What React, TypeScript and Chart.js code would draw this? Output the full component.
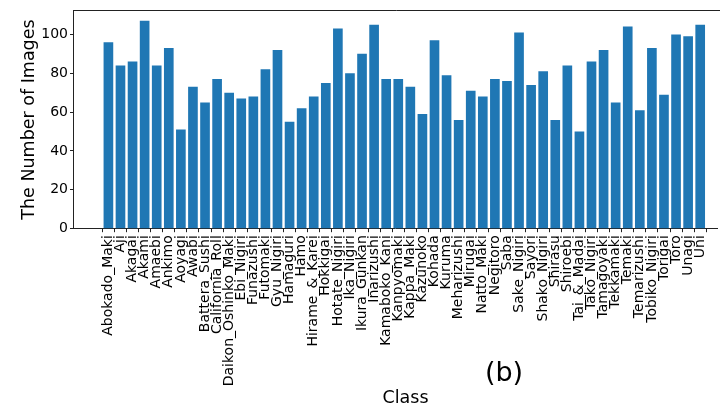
import React, { useEffect, useRef } from "react";
import { Chart, registerables } from "chart.js";

Chart.register(...registerables);

const classes = [
  "Abokado_Maki", "Aji", "Akagai", "Akami", "Amaebi", "Ankimo", "Aoyagi", "Awabi",
  "Battera_Sushi", "California_Roll", "Daikon_Oshinko_Maki", "Ebi_Nigiri", "Funazushi",
  "Futomaki", "Gyu_Nigiri", "Hamaguri", "Hamo", "Hirame_&_Karei", "Hokkigai",
  "Hotate_Nigiri", "Ika_Nigiri", "Ikura_Gunkan", "Inarizushi", "Kamaboko_Kani",
  "Kanpyomaki", "Kappa_Maki", "Kazunoko", "Kohada", "Kuruma", "Meharizushi", "Mirugai",
  "Natto_Maki", "Negitoro", "Saba", "Sake_Nigiri", "Sayori", "Shako_Nigiri", "Shirasu",
  "Shiroebi", "Tai_&_Madai", "Tako_Nigiri", "Tamagoyaki", "Tekkamaki", "Temaki",
  "Temarizushi", "Tobiko_Nigiri", "Torigai", "Toro", "Unagi", "Uni",
];

const imageCounts = [
  96, 84, 86, 107, 84, 93, 51, 73,
  65, 77, 70, 67, 68,
  82, 92, 55, 62, 68, 75,
  103, 80, 90, 105, 77,
  77, 73, 59, 97, 79, 56, 71,
  68, 77, 76, 101, 74, 81, 56,
  84, 50, 86, 92, 65, 104,
  61, 93, 69, 100, 99, 105,
];

const yTicks = [0, 20, 40, 60, 80, 100];

// visible x-range (the figure is cropped on the right)
const xRange = [-2.89, 50.4];

const FONT = "'DejaVu Sans', sans-serif";

export default function App() {
  const ref = useRef<HTMLCanvasElement>(null);

  useEffect(() => {
    document.body.style.margin = "0";
    const canvas = ref.current!;
    const yMax = Math.max(...imageCounts) * 1.05;

    const decor = {
      id: "decor",
      afterDraw(chart: any) {
        const { ctx, chartArea } = chart;
        ctx.save();
        ctx.strokeStyle = "#222";
        ctx.lineWidth = 1;
        ctx.beginPath();
        ctx.moveTo(chartArea.left, Math.round(chartArea.top) + 0.5);
        ctx.lineTo(chart.width, Math.round(chartArea.top) + 0.5);
        ctx.stroke();

        ctx.fillStyle = "#000";
        ctx.textAlign = "center";
        ctx.textBaseline = "middle";
        ctx.font = `17.5px ${FONT}`;
        ctx.fillText("Class", 405.5, 398);

        ctx.save();
        ctx.translate(29, (chartArea.top + chartArea.bottom) / 2);
        ctx.rotate(-Math.PI / 2);
        ctx.fillText("The Number of Images", 0, 0);
        ctx.restore();

        ctx.font = `27px ${FONT}`;
        ctx.fillText("(b)", 504, 374);
        ctx.restore();
      },
    };

    const chart = new Chart(canvas, {
      type: "bar",
      data: {
        datasets: [
          {
            data: imageCounts.map((v, i) => ({ x: i, y: v })),
            backgroundColor: "#1f77b4",
            borderWidth: 0,
            barPercentage: 0.8,
            categoryPercentage: 1.0,
          },
        ],
      },
      options: {
        responsive: false,
        animation: false,
        events: [],
        layout: { autoPadding: false, padding: { top: 6.2, right: 0, left: 0, bottom: 0 } },
        plugins: { legend: { display: false }, tooltip: { enabled: false } },
        scales: {
          x: {
            type: "linear",
            min: xRange[0],
            max: xRange[1],
            offset: false,
            afterFit: (s: any) => {
              s.height = 408 - 228.7;
            },
            afterBuildTicks: (s: any) => {
              s.ticks = classes.map((_, i) => ({ value: i }));
            },
            ticks: {
              autoSkip: false,
              maxRotation: 90,
              minRotation: 90,
              padding: 3,
              color: "#000",
              font: { family: FONT, size: 14 },
              callback: (v: any) => classes[v as number] ?? "",
            },
            grid: { drawOnChartArea: false, drawTicks: true, tickLength: 3.5, color: "#222" },
            border: { display: true, color: "#222", width: 1 },
          },
          y: {
            min: 0,
            max: yMax,
            afterFit: (s: any) => {
              s.width = 73.5;
            },
            afterBuildTicks: (s: any) => {
              s.ticks = yTicks.map((v) => ({ value: v }));
            },
            ticks: {
              padding: 2,
              color: "#000",
              font: { family: FONT, size: 14 },
            },
            grid: { drawOnChartArea: false, drawTicks: true, tickLength: 3.5, color: "#222" },
            border: { display: true, color: "#222", width: 1 },
          },
        },
      },
      plugins: [decor],
    });
    return () => chart.destroy();
  }, []);

  return (
    <div style={{ width: 720, height: 408, overflow: "hidden", position: "relative", background: "#fff" }}>
      <canvas ref={ref} width={720} height={408} style={{ display: "block" }} />
    </div>
  );
}
